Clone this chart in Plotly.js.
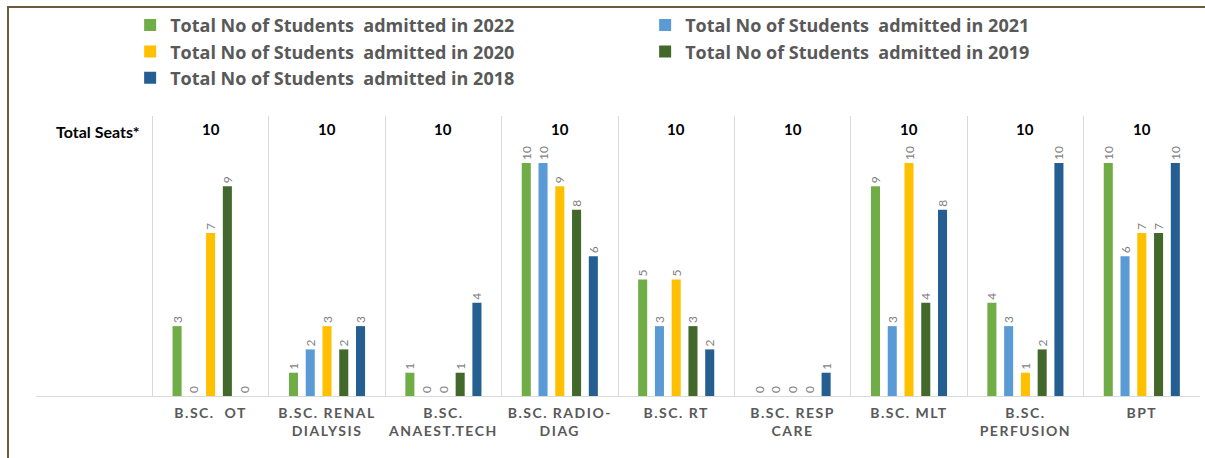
<!DOCTYPE html>
<html>
<head>
<meta charset="utf-8">
<script src="https://cdn.plot.ly/plotly-3.0.1.min.js"></script>
<style>
  html, body { margin: 0; padding: 0; background: #ffffff; }
  #wrap { position: relative; width: 1205px; height: 458px; }
  #chart { width: 1205px; height: 458px; }
  #frame { position: absolute; left: 7px; top: 6px; width: 1198px; height: 452px;
           border-top: 2px solid #6e5b3e; border-left: 2px solid #6e5b3e; pointer-events: none; box-sizing: border-box; }
  .xtick text { letter-spacing: 1.5px; }
</style>
</head>
<body>
<div id="wrap">
  <div id="chart"></div>
  <div id="frame"></div>
</div>
<script>
const categories = ["B.SC.  OT", "B.SC. RENAL<br>DIALYSIS", "B.SC.<br>ANAEST.TECH", "B.SC. RADIO-<br>DIAG",
                    "B.SC. RT", "B.SC. RESP<br>CARE", "B.SC. MLT", "B.SC.<br>PERFUSION", "BPT"];
const totalSeats = [10, 10, 10, 10, 10, 10, 10, 10, 10];
const seatsLabel = "Total Seats*";
const seriesNames = [
  "Total No of Students\u00a0\u00a0admitted in 2022",
  "Total No of Students\u00a0\u00a0admitted in 2021",
  "Total No of Students\u00a0\u00a0admitted in 2020",
  "Total No of Students\u00a0\u00a0admitted in 2019",
  "Total No of Students\u00a0\u00a0admitted in 2018"
];
const admitted2022 = [3, 1, 1, 10, 5, 0, 9, 4, 10];
const admitted2021 = [0, 2, 0, 10, 3, 0, 3, 3, 6];
const admitted2020 = [7, 3, 0, 9, 5, 0, 10, 1, 7];
const admitted2019 = [9, 2, 1, 8, 3, 0, 4, 2, 7];
const admitted2018 = [0, 3, 4, 6, 2, 1, 8, 10, 10];
const colors = ["#70AD47", "#5B9BD5", "#FFC000", "#43682B", "#255E91"];

const seriesValues = [admitted2022, admitted2021, admitted2020, admitted2019, admitted2018];
const emptyCat = " ";
const allCats = [emptyCat].concat(categories);

const traces = seriesValues.map((vals, i) => ({
  type: "bar",
  name: seriesNames[i],
  x: categories,
  y: vals,
  marker: { color: colors[i] },
  text: vals.map(String),
  textposition: "outside",
  textangle: -90,
  constraintext: "none",
  cliponaxis: false,
  textfont: { family: "Lato, 'Open Sans', sans-serif", size: 12, color: "#7f7f7f" },
  hoverinfo: "x+y+name"
}));

const annotations = categories.map((c, i) => ({
  x: c, y: 11.45, xref: "x", yref: "y",
  text: "<b>" + totalSeats[i] + "</b>",
  showarrow: false,
  font: { family: "Lato, 'Open Sans', sans-serif", size: 15, color: "#000000" }
}));
annotations.push({
  x: emptyCat, y: 11.35, xref: "x", yref: "y", xshift: 4,
  text: "<b>" + seatsLabel + "</b>",
  showarrow: false,
  font: { family: "Lato, 'Open Sans', sans-serif", size: 16, color: "#000000" }
});

const layout = {
  width: 1205, height: 458,
  margin: { l: 36, r: 5, t: 116, b: 62 },
  paper_bgcolor: "#ffffff",
  plot_bgcolor: "#ffffff",
  barmode: "group",
  bargap: 0.28,
  bargroupgap: 0.46,
  showlegend: true,
  legend: {
    orientation: "h",
    xref: "container", yref: "container",
    x: 0.108, y: 0.985, xanchor: "left", yanchor: "top",
    entrywidth: 470, entrywidthmode: "pixels",
    traceorder: "normal",
    font: { family: "'Open Sans', sans-serif", size: 18, color: "#595959", weight: 700 },
    tracegroupgap: 0,
    itemwidth: 30
  },
  xaxis: {
    type: "category",
    categoryorder: "array",
    categoryarray: allCats,
    range: [-0.5, 9.5],
    tickson: "boundaries",
    ticks: "",
    ticklabelstandoff: 4,
    showgrid: true,
    gridcolor: "#d9d9d9",
    gridwidth: 1,
    showline: true,
    linecolor: "#d9d9d9",
    linewidth: 1,
    tickfont: { family: "Lato, 'Open Sans', sans-serif", size: 14, color: "#595959", weight: 700 },
    fixedrange: true
  },
  yaxis: {
    range: [0, 12.02],
    showgrid: false,
    zeroline: false,
    showticklabels: false,
    ticks: "",
    showline: false,
    fixedrange: true
  },
  annotations: annotations
};

Plotly.newPlot("chart", traces, layout, { displayModeBar: false });
</script>
</body>
</html>
